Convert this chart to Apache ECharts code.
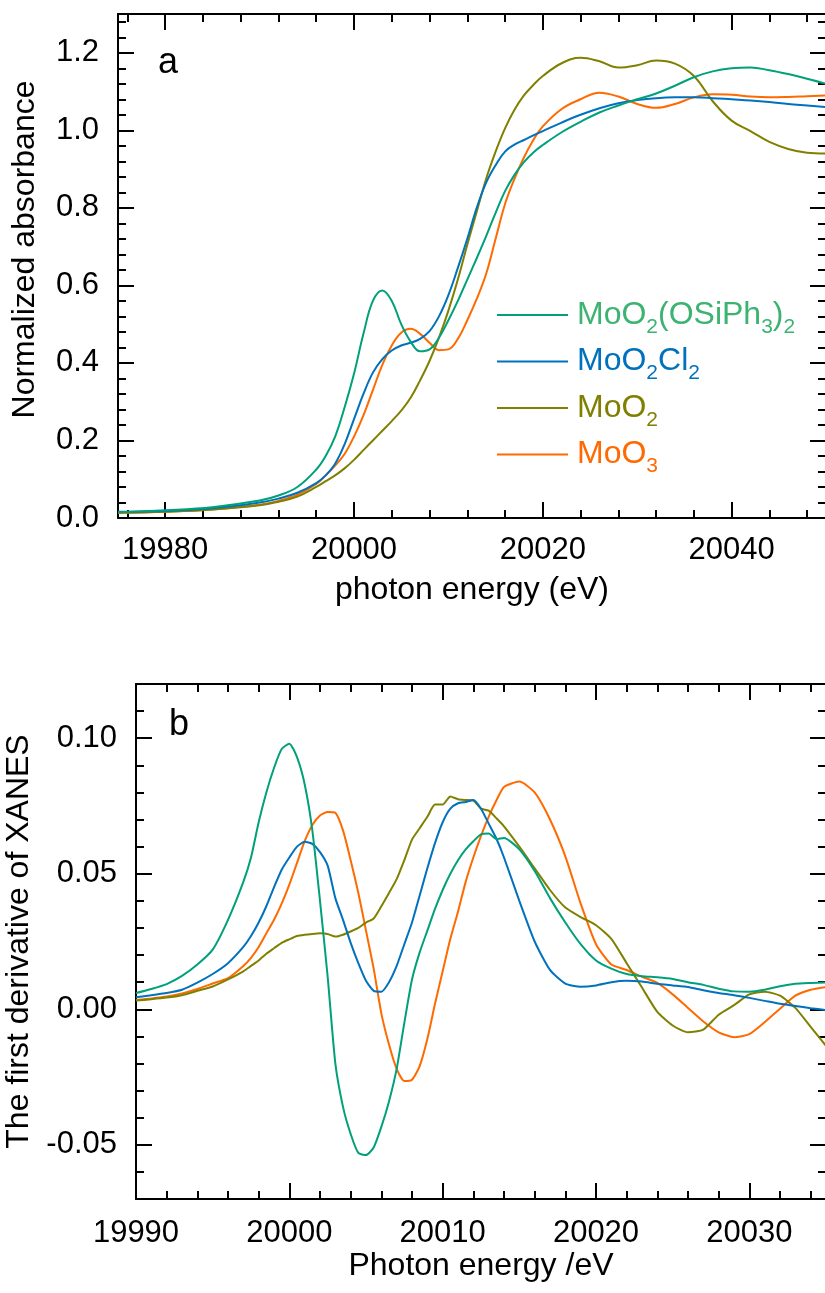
<!DOCTYPE html>
<html lang="en">
<head>
<meta charset="UTF-8">
<title>Mo K-edge XANES</title>
<script src="https://cdn.jsdelivr.net/npm/echarts@6.0.0/dist/echarts.min.js"></script>
<style>
  html, body { margin: 0; padding: 0; background: #fff; }
  #main { width: 825px; height: 1293px; }
</style>
</head>
<body>
<div id="main"></div>
<script>
// ---- data ----
var names = ['MoO2(OSiPh3)2', 'MoO2Cl2', 'MoO2', 'MoO3'];
var lineColors = ['#00a07a', '#0072bd', '#808000', '#ff6a00'];
var textColors = ['#3cb371', '#0072bd', '#808000', '#ff6a00'];

// panel a : normalized absorbance
var energyA = [19975, 19980, 19985, 19990, 19992, 19994, 19996, 19997, 19998, 19999, 20000, 20001, 20002, 20003, 20004, 20005,
  20006, 20007, 20008, 20009, 20010, 20011, 20012, 20013, 20014, 20015, 20016, 20017, 20018, 20019, 20020, 20022, 20024, 20026,
  20028, 20030, 20032, 20034, 20036, 20038, 20040, 20042, 20044, 20046, 20048, 20050];
var absSiloxide = [0.015, 0.020, 0.028, 0.045, 0.058, 0.080, 0.125, 0.160, 0.210, 0.285, 0.372, 0.475, 0.560, 0.587, 0.560, 0.500,
  0.455, 0.430, 0.435, 0.465, 0.510, 0.560, 0.615, 0.670, 0.727, 0.787, 0.843, 0.885, 0.918, 0.943, 0.962, 0.995, 1.022, 1.046,
  1.064, 1.080, 1.095, 1.115, 1.137, 1.152, 1.160, 1.162, 1.155, 1.145, 1.133, 1.120];
var absChloride = [0.016, 0.018, 0.025, 0.040, 0.050, 0.065, 0.090, 0.110, 0.140, 0.190, 0.255, 0.320, 0.375, 0.410, 0.432, 0.445,
  0.452, 0.462, 0.482, 0.520, 0.575, 0.645, 0.720, 0.800, 0.865, 0.910, 0.945, 0.963, 0.975, 0.987, 0.998, 1.020, 1.040, 1.057,
  1.070, 1.078, 1.083, 1.085, 1.085, 1.083, 1.080, 1.077, 1.073, 1.068, 1.064, 1.060];
var absMoO2 = [0.014, 0.016, 0.022, 0.033, 0.042, 0.055, 0.080, 0.095, 0.110, 0.128, 0.150, 0.175, 0.200, 0.225, 0.250, 0.277,
  0.310, 0.355, 0.405, 0.465, 0.535, 0.615, 0.705, 0.790, 0.875, 0.945, 1.005, 1.053, 1.090, 1.117, 1.140, 1.173, 1.187, 1.178,
  1.162, 1.168, 1.180, 1.172, 1.140, 1.075, 1.025, 0.998, 0.970, 0.952, 0.942, 0.940];
var absMoO3 = [0.013, 0.016, 0.022, 0.034, 0.044, 0.060, 0.088, 0.110, 0.135, 0.165, 0.210, 0.265, 0.330, 0.395, 0.445, 0.478,
  0.488, 0.475, 0.452, 0.433, 0.435, 0.462, 0.510, 0.565, 0.630, 0.720, 0.810, 0.875, 0.930, 0.975, 1.010, 1.055, 1.080, 1.097,
  1.087, 1.068, 1.058, 1.068, 1.085, 1.093, 1.092, 1.087, 1.085, 1.086, 1.088, 1.090];

// panel b : first derivative
var energyB = [19990, 19991, 19992, 19993, 19994, 19995, 19996, 19997, 19997.5, 19998, 19998.5, 19999, 19999.5, 20000, 20000.5,
  20001, 20001.5, 20002, 20002.5, 20003, 20003.5, 20004, 20004.5, 20005, 20005.5, 20006, 20006.5, 20007, 20007.5, 20008, 20008.5,
  20009, 20009.5, 20010, 20010.5, 20011, 20011.5, 20012, 20012.5, 20013, 20013.5, 20014, 20015, 20016, 20017, 20018, 20019, 20020,
  20021, 20022, 20023, 20024, 20025, 20026, 20027, 20028, 20029, 20030, 20031, 20032, 20033, 20034, 20035];
var derSiloxide = [0.0060, 0.0075, 0.0093, 0.0123, 0.0165, 0.0220, 0.0330, 0.0470, 0.0560, 0.0690, 0.0800, 0.0890, 0.0960, 0.0980,
  0.0930, 0.0830, 0.0660, 0.0400, 0.0120, -0.0200, -0.0360, -0.0460, -0.0530, -0.0538, -0.0510, -0.0434, -0.0340, -0.0220, -0.0050,
  0.0110, 0.0210, 0.0290, 0.0370, 0.0440, 0.0500, 0.0550, 0.0590, 0.0620, 0.0645, 0.0648, 0.0628, 0.0632, 0.0590, 0.0510, 0.0410,
  0.0320, 0.0240, 0.0180, 0.0150, 0.0130, 0.0122, 0.0118, 0.0112, 0.0100, 0.0090, 0.0076, 0.0066, 0.0065, 0.0072, 0.0085, 0.0094,
  0.0097, 0.0099];
var derChloride = [0.0044, 0.0052, 0.0060, 0.0072, 0.0098, 0.0130, 0.0170, 0.0230, 0.0270, 0.0320, 0.0380, 0.0450, 0.0515, 0.0560,
  0.0600, 0.0618, 0.0610, 0.0580, 0.0530, 0.0410, 0.0330, 0.0245, 0.0170, 0.0105, 0.0068, 0.0065, 0.0100, 0.0160, 0.0240, 0.0320,
  0.0420, 0.0520, 0.0613, 0.0690, 0.0740, 0.0760, 0.0765, 0.0772, 0.0740, 0.0685, 0.0630, 0.0560, 0.0400, 0.0250, 0.0145, 0.0095,
  0.0083, 0.0088, 0.0100, 0.0105, 0.0102, 0.0094, 0.0088, 0.0082, 0.0070, 0.0060, 0.0052, 0.0042, 0.0031, 0.0020, 0.0012, 0.0004,
  -0.0003];
var derMoO2 = [0.0032, 0.0037, 0.0043, 0.0052, 0.0068, 0.0084, 0.0110, 0.0140, 0.0160, 0.0180, 0.0205, 0.0225, 0.0245, 0.0258,
  0.0270, 0.0275, 0.0278, 0.0280, 0.0278, 0.0268, 0.0275, 0.0287, 0.0300, 0.0320, 0.0335, 0.0380, 0.0429, 0.0480, 0.0550, 0.0626,
  0.0668, 0.0710, 0.0755, 0.0755, 0.0785, 0.0775, 0.0772, 0.0770, 0.0740, 0.0733, 0.0705, 0.0675, 0.0600, 0.0520, 0.0440, 0.0375,
  0.0340, 0.0310, 0.0260, 0.0170, 0.0080, -0.0010, -0.0060, -0.0085, -0.0075, -0.0020, 0.0015, 0.0055, 0.0065, 0.0050, 0.0005,
  -0.0065, -0.0135];
var derMoO3 = [0.0034, 0.0040, 0.0047, 0.0058, 0.0075, 0.0095, 0.0115, 0.0160, 0.0190, 0.0230, 0.0280, 0.0330, 0.0390, 0.0460,
  0.0540, 0.0620, 0.0680, 0.0715, 0.0728, 0.0725, 0.0660, 0.0550, 0.0429, 0.0290, 0.0150, -0.0015, -0.0130, -0.0220, -0.0265,
  -0.0260, -0.0210, -0.0110, 0.0020, 0.0140, 0.0260, 0.0360, 0.0470, 0.0560, 0.0640, 0.0710, 0.0770, 0.0820, 0.0840, 0.0800,
  0.0700, 0.0564, 0.0390, 0.0240, 0.0165, 0.0145, 0.0120, 0.0097, 0.0055, 0.0005, -0.0045, -0.0085, -0.0103, -0.0092, -0.0048,
  0.0002, 0.0050, 0.0072, 0.0082];

// tick labels
var ticksAx = [19980, 20000, 20020, 20040];
var ticksAy = [0, 0.2, 0.4, 0.6, 0.8, 1.0, 1.2];
var ticksBx = [19990, 20000, 20010, 20020, 20030];
var ticksBy = [-0.05, 0, 0.05, 0.10];

// ---- helpers ----
var font = 'Liberation Sans, Arial, Helvetica, sans-serif';

function steps(from, to, step) {
  var out = [];
  for (var i = 0; from + i * step <= to + 1e-9; i++) out.push(+(from + i * step).toFixed(4));
  return out;
}
function pairs(xs, ys) {
  return ys.map(function (v, i) { return [xs[i], v]; });
}
// one value axis per side for the long ticks (and labels), one more for the short ticks
function makeAxes(dim, grid, min, max, major, minor, label, extra) {
  var sides = dim === 'x' ? ['bottom', 'top'] : ['left', 'right'];
  var out = [];
  sides.forEach(function (side, s) {
    [major, minor].forEach(function (vals, k) {
      var ax = {
        type: 'value', gridIndex: grid, position: side, min: min, max: max,
        splitLine: { show: false },
        axisLine: { show: k === 0, onZero: false, lineStyle: { color: '#000', width: 2 } },
        axisTick: { show: true, inside: true, customValues: vals, length: k === 0 ? 16 : 8,
          lineStyle: { color: '#000', width: 2 } },
        axisLabel: { show: false }
      };
      if (s === 0 && k === 0) {
        ax.axisLabel = Object.assign({ show: true, customValues: vals, color: '#000', fontSize: 31, fontFamily: font }, label);
        Object.assign(ax, extra);
      }
      out.push(ax);
    });
  });
  return out;
}

function chemRich(name) {
  var i = names.indexOf(name);
  return name.split(/(\d)/).filter(function (p) { return p !== ''; }).map(function (p) {
    return /\d/.test(p) ? '{s' + i + '|' + p + '}' : '{n' + i + '|' + p + '}';
  }).join('');
}
var rich = {};
names.forEach(function (n, i) {
  rich['n' + i] = { color: textColors[i], fontSize: 32, fontFamily: font };
  rich['s' + i] = { color: textColors[i], fontSize: 21, fontFamily: font, padding: [24, 0, 0, 0] };
});

var nameStyle = { color: '#000', fontSize: 32, fontFamily: font };

var xAxes = []
  .concat(makeAxes('x', 0, 19975, 20050, ticksAx, steps(19976, 20048, 4),
    { margin: 17, formatter: function (v) { return String(v); } },
    { name: 'photon energy (eV)', nameLocation: 'middle', nameGap: 56, nameTextStyle: nameStyle }))
  .concat(makeAxes('x', 1, 19990, 20035, ticksBx, steps(19990, 20034, 2),
    { margin: 19, formatter: function (v) { return String(v); } },
    { name: 'Photon energy /eV', nameLocation: 'middle', nameGap: 47, nameTextStyle: nameStyle }));

var yAxes = []
  .concat(makeAxes('y', 0, 0, 1.3, ticksAy, steps(0, 1.28, 0.04),
    { margin: 19, formatter: function (v) { return v.toFixed(1); } },
    { name: 'Normalized absorbance', nameLocation: 'middle', nameGap: 77,
      nameTextStyle: Object.assign({ padding: [0, 0, 0, 33] }, nameStyle) }))
  .concat(makeAxes('y', 1, -0.07, 0.12, ticksBy, steps(-0.07, 0.12, 0.01),
    { margin: 19, formatter: function (v) { return v.toFixed(2); } },
    { name: 'The first derivative of XANES', nameLocation: 'middle', nameGap: 93, nameTextStyle: nameStyle }));

var seriesA = [absSiloxide, absChloride, absMoO2, absMoO3];
var seriesB = [derSiloxide, derChloride, derMoO2, derMoO3];
var series = [];
seriesA.forEach(function (ys, i) {
  series.push({ name: names[i], type: 'line', xAxisIndex: 0, yAxisIndex: 0, data: pairs(energyA, ys),
    showSymbol: false, symbol: 'none', smooth: 0.4, lineStyle: { color: lineColors[i], width: 2 },
    itemStyle: { color: lineColors[i] }, z: 10 - i });
});
seriesB.forEach(function (ys, i) {
  series.push({ name: names[i], type: 'line', xAxisIndex: 4, yAxisIndex: 4, data: pairs(energyB, ys),
    showSymbol: false, symbol: 'none', smooth: 0.2, lineStyle: { color: lineColors[i], width: 2 },
    itemStyle: { color: lineColors[i] }, z: 10 - i });
});

var option = {
  backgroundColor: '#fff',
  animation: false,
  title: [
    { text: 'a', left: 158, top: 45, padding: 0, textStyle: { fontSize: 36, fontWeight: 'normal', color: '#000', fontFamily: font } },
    { text: 'b', left: 169, top: 707, padding: 0, textStyle: { fontSize: 36, fontWeight: 'normal', color: '#000', fontFamily: font } }
  ],
  grid: [
    { left: 118, top: 14, right: -1, height: 504, outerBoundsMode: 'none' },
    { left: 136, top: 684, right: -1, bottom: 94, outerBoundsMode: 'none' }
  ],
  legend: {
    orient: 'vertical', left: 497, top: 299, padding: 0, itemGap: 8, itemWidth: 71, itemHeight: 2,
    icon: 'rect', selectedMode: false,
    data: names,
    formatter: chemRich,
    textStyle: { fontSize: 32, fontFamily: font, rich: rich, padding: [0, 0, 0, 4] }
  },
  xAxis: xAxes,
  yAxis: yAxes,
  series: series
};

var chart = echarts.init(document.getElementById('main'));
chart.setOption(option);
</script>
</body>
</html>
